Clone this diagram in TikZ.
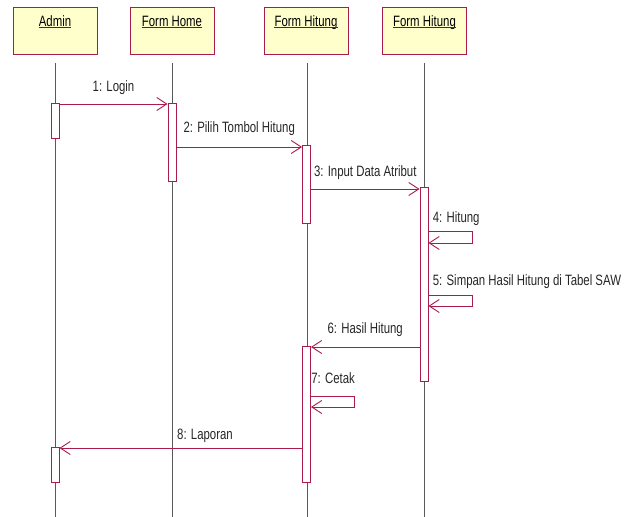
\documentclass[tikz,border=0pt]{standalone}
\usepackage{fontspec}
\setmainfont{Liberation Sans}[FakeStretch=0.76]
\usepackage{tikz}
\usetikzlibrary{arrows.meta}

\definecolor{umlred}{RGB}{170,28,78}
\definecolor{umlfill}{RGB}{255,255,204}

\tikzset{
  obj/.style={draw=umlred, fill=umlfill, line width=0.9pt, minimum width=84pt, minimum height=47pt, inner sep=0pt, anchor=north},
  objtxt/.style={font=\fontsize{15}{17}\selectfont, inner sep=0pt, anchor=base},
  ul/.style={line width=0.7pt, black!80},
  life/.style={draw=black!65, line width=0.6pt},
  act/.style={draw=umlred, fill=white, line width=0.9pt, minimum width=8pt, inner sep=0pt, anchor=north},
  msg/.style={draw=umlred, line width=0.9pt, -{Straight Barb[length=10pt,width=13pt]}},
  lbl/.style={font=\fontsize{15}{17}\selectfont, inner sep=0pt, text depth=3pt, text=black!85}
}

\begin{document}
\begin{tikzpicture}[x=1pt,y=-1pt]
\useasboundingbox (0,0) rectangle (638,517);

% Objetos
\node[obj] (admin) at (55,7) {};
\node[obj] (home) at (172,7) {};
\node[obj] (hit1) at (306,7) {};
\node[obj] (hit2) at (424.5,7) {};
\node[objtxt] (tAdmin) at (55,26) {Admin};
\node[objtxt] (tHome) at (172,26) {Form Home};
\node[objtxt] (tHit1) at (306,26) {Form Hitung};
\node[objtxt] (tHit2) at (424.5,26) {Form Hitung};
\foreach \t in {tAdmin,tHome,tHit1,tHit2}
  \draw[ul] ([yshift=-1.5pt]\t.base west) -- ([yshift=-1.5pt]\t.base east);

% Lineas de vida
\draw[life] (55,63) -- (55,517);
\draw[life] (172,63) -- (172,517);
\draw[life] (307,63) -- (307,517);
\draw[life] (424,63) -- (424,517);

% Activaciones
\node[act, minimum height=35pt] (aA1) at (55,103) {};
\node[act, minimum height=78pt] (aH1) at (172,103) {};
\node[act, minimum height=78pt] (aT1) at (306.5,145) {};
\node[act, minimum height=194pt] (aU1) at (424,187) {};
\node[act, minimum height=136pt] (aT2) at (306.5,346) {};
\node[act, minimum height=35pt] (aA2) at (55,447) {};

% Mensajes
\draw[msg] (aA1.east |- 0,104) -- node[lbl, above=9pt] {1: Login} (aH1.west |- 0,104);
\draw[msg] (aH1.east |- 0,147) -- node[lbl, above=11pt] {2: Pilih Tombol Hitung} (aT1.west |- 0,147);
\draw[msg] (aT1.east |- 0,189) -- node[lbl, above=9pt] {3: Input Data Atribut} (aU1.west |- 0,189);
\draw[msg] (aU1.east |- 0,231) node[lbl, anchor=base west, xshift=4pt, yshift=9pt] {4: Hitung}
  -- ++(44,0) |- (aU1.east |- 0,243);
\draw[msg] (aU1.east |- 0,295) node[lbl, anchor=base west, xshift=4pt, yshift=10pt] {5: Simpan Hasil Hitung di Tabel SAW}
  -- ++(44,0) |- (aU1.east |- 0,306);
\draw[msg] (aU1.west |- 0,347) -- node[lbl, above=10pt] {6: Hasil Hitung} (aT2.east |- 0,347);
\draw[msg] (aT2.east |- 0,396) node[lbl, anchor=base west, yshift=13pt] {7: Cetak}
  -- ++(43,0) |- (aT2.east |- 0,407);
\draw[msg] (aT2.west |- 0,448) -- node[lbl, above=5pt, pos=0.4] {8: Laporan} (aA2.east |- 0,448);

\end{tikzpicture}
\end{document}
